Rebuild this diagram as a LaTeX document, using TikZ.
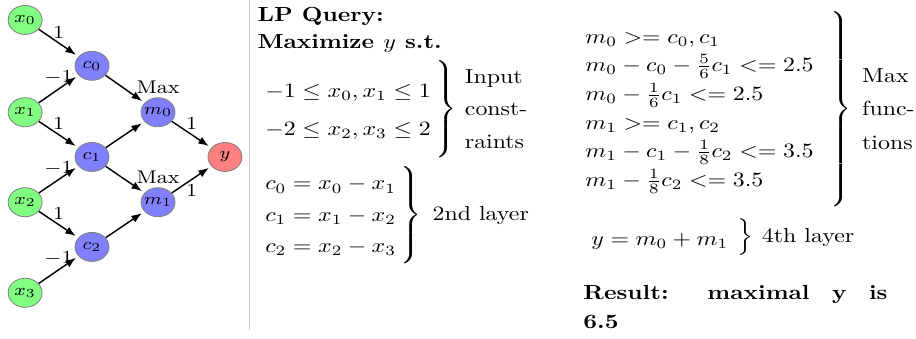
\documentclass[tikz,border=0pt]{standalone}
\usepackage{amsmath}
\usepackage{tikz}
\usetikzlibrary{arrows.meta}
\definecolor{netGreen}{HTML}{80FF80}
\definecolor{netBlue}{HTML}{8080FF}
\definecolor{netRed}{HTML}{FF8080}
\definecolor{netRim}{HTML}{7F7F7F}
\definecolor{ruleGray}{HTML}{CCCCCC}
% invisible strut that sets the height of a brace
\newcommand{\bracefill}[1]{\rule[\dimexpr 2.5pt-#1/2\relax]{0pt}{#1}}

\begin{document}
\begin{tikzpicture}[
    xscale=1.17, transform shape,
    neuron/.style={
        circle,
        draw=netRim,
        line width=0.4pt,
        minimum size=0.5cm,
        inner sep=0pt,
        font=\footnotesize
    },
    innode/.style={neuron, fill=netGreen},
    midnode/.style={neuron, fill=netBlue},
    outnode/.style={neuron, fill=netRed},
    wire/.style={-{Latex[length=1.8mm]}, line width=0.7pt, shorten >=1.5pt},
    weight/.style={font=\small, inner sep=2pt},
    eqn/.style={anchor=west, inner sep=0pt},
    note/.style={anchor=west, align=left, inner sep=0pt},
    every label/.style={font=\small, inner sep=1.5pt}
]
\useasboundingbox (0,0) rectangle (13.489,5.824);

% Network
\node[innode] (x0) at (0.37,5.48) {$x_0$};
\node[innode] (x1) at (0.37,3.89) {$x_1$};
\node[innode] (x2) at (0.37,2.34) {$x_2$};
\node[innode] (x3) at (0.37,0.78) {$x_3$};

\node[midnode] (c0) at (1.355,4.69) {$c_0$};
\node[midnode] (c1) at (1.355,3.12) {$c_1$};
\node[midnode] (c2) at (1.355,1.57) {$c_2$};

\node[midnode, label=above:Max] (m0) at (2.327,3.89) {$m_0$};
\node[midnode, label=above:Max] (m1) at (2.327,2.34) {$m_1$};

\node[outnode] (y) at (3.313,3.12) {$y$};

\draw[wire] (x0) -- node[weight, above] {$1$} (c0);
\draw[wire] (x1) -- node[weight, above] {$-1$} (c0);
\draw[wire] (x1) -- node[weight, above] {$1$} (c1);
\draw[wire] (x2) -- node[weight, above] {$-1$} (c1);
\draw[wire] (x2) -- node[weight, above] {$1$} (c2);
\draw[wire] (x3) -- node[weight, above] {$-1$} (c2);

\draw[wire] (c0) -- (m0);
\draw[wire] (c1) -- (m0);
\draw[wire] (c1) -- (m1);
\draw[wire] (c2) -- (m1);

\draw[wire] (m0) -- node[weight, above] {$1$} (y);
\draw[wire] (m1) -- node[weight, below] {$1$} (y);

% Separator
\draw[draw=ruleGray, line width=0.5pt] (3.667,5.824) -- (3.667,0.138);

% LP query, left column
\node[note, anchor=north west, font=\bfseries] (query) at (3.785,5.703)
    {LP Query:\\[1.2pt]Maximize $y$ s.t.};

\node[eqn] (inq) at (3.858,3.946)
    {$\def\arraystretch{1.55}\left.\begin{array}{@{}l@{}}
        -1 \le x_0, x_1 \le 1\\
        -2 \le x_2, x_3 \le 2
    \end{array}\bracefill{47pt}\hspace{2pt}\right\}$};
\node[note] (inlbl) at ([xshift=3pt]inq.east) {Input\\[4pt]const-\\[4pt]raints};

\node[eqn] (hid) at (3.858,2.119)
    {$\def\arraystretch{1.28}\left.\begin{array}{@{}l@{}}
        c_0 = x_0 - x_1\\
        c_1 = x_1 - x_2\\
        c_2 = x_2 - x_3
    \end{array}\bracefill{49pt}\hspace{2pt}\right\}$};
\node[note] (hidlbl) at ([xshift=4pt]hid.east) {2nd layer};

% LP query, right column
\node[eqn] (maxq) at (8.571,3.946)
    {$\def\arraystretch{1.17}\left.\begin{array}{@{}l@{}}
        m_0 >= c_0, c_1\\
        m_0 - c_0 - \frac{5}{6}c_1 <= 2.5\\
        m_0 - \frac{1}{6}c_1 <= 2.5\\
        m_1 >= c_1, c_2\\
        m_1 - c_1 - \frac{1}{8}c_2 <= 3.5\\
        m_1 - \frac{1}{8}c_2 <= 3.5
    \end{array}\bracefill{96pt}\hspace{7pt}\right\}$};
\node[note] (maxlbl) at ([xshift=4pt]maxq.east) {Max\\[4.5pt]func-\\[4.5pt]tions};

\node[eqn] (outq) at (8.659,1.732)
    {$\def\arraystretch{1.6}\left.\begin{array}{@{}l@{}}
        y = m_0 + m_1
    \end{array}\hspace{4pt}\right\}$};
\node[note] (outlbl) at ([xshift=3pt]outq.east) {4th layer};

\node[anchor=north west, text width=4.477cm, align=justify, inner sep=0pt,
      font={\bfseries\fontsize{10}{14.2}\selectfont}] (result) at (8.585,0.913)
    {Result: maximal y is\linebreak 6.5};

\end{tikzpicture}
\end{document}
